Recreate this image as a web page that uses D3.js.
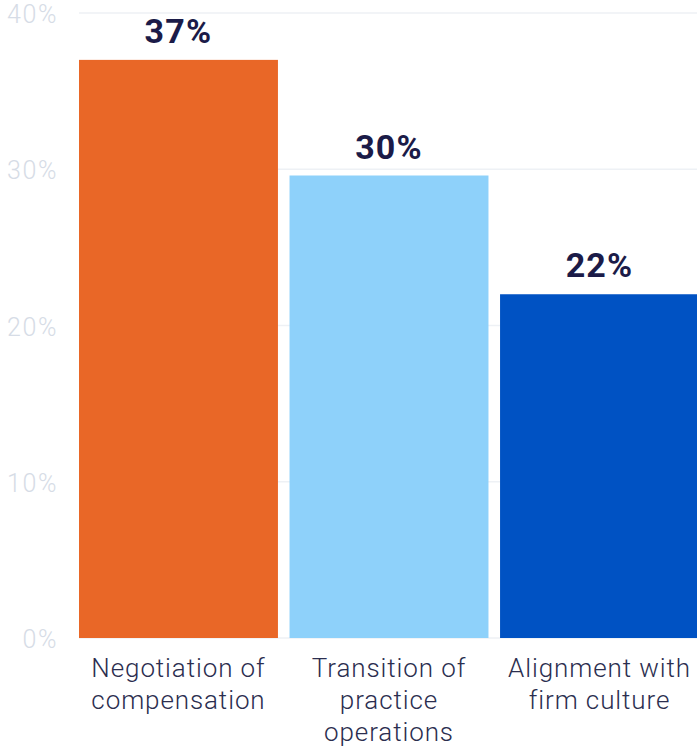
<!DOCTYPE html>
<html><head><meta charset="utf-8">
<script src="https://cdn.jsdelivr.net/npm/d3@7"></script>
<style>body{margin:0;background:#fff;}svg{display:block;}</style>
</head><body><svg id="c" width="697" height="747"></svg>
<script>
const categories = [["Negotiation of","compensation"],["Transition of","practice","operations"],["Alignment with","firm culture"]];
const values = [37, 29.6, 22];
const colors = ["#E96727", "#8ED1FA", "#0052C3"];
const yTicks = [0, 10, 20, 30, 40];

const svg = d3.select("#c");
const m = {left: 79, right: 699, top: 13, bottom: 638};
const x = d3.scaleBand().domain(d3.range(values.length)).range([m.left, m.right]).paddingInner(0.055).paddingOuter(0);
const y = d3.scaleLinear().domain([0, 40]).range([m.bottom, m.top]);

// gridlines
svg.append("g").selectAll("line").data(yTicks).join("line")
  .attr("x1", m.left).attr("x2", 697)
  .attr("y1", d => y(d)).attr("y2", d => y(d))
  .attr("stroke", "#eef1f5").attr("stroke-width", 1.5);

// y axis labels
const yAxis = d3.axisLeft(y).tickValues(yTicks).tickFormat(d => d + "%").tickSize(0).tickPadding(0);
const ga = svg.append("g").attr("transform", "translate(58,0)").call(yAxis);
ga.select(".domain").remove();
ga.selectAll("text").attr("font-family", "Roboto").attr("font-weight", 300).attr("font-size", 25)
  .attr("letter-spacing", 1.6).attr("fill", "#d6dce6").attr("dy", 9.5);

// bars
svg.append("g").selectAll("rect").data(values).join("rect")
  .attr("x", (d, i) => x(i)).attr("width", x.bandwidth())
  .attr("y", d => y(d)).attr("height", d => y(0) - y(d))
  .attr("fill", (d, i) => colors[i]);

// value labels
svg.append("g").selectAll("text").data(values).join("text")
  .attr("x", (d, i) => x(i) + x.bandwidth() / 2)
  .attr("y", d => y(d) - 17)
  .attr("text-anchor", "middle")
  .attr("font-family", "Roboto").attr("font-weight", 700).attr("font-size", 34)
  .attr("letter-spacing", 1.2)
  .attr("fill", "#1B1B48")
  .text(d => d3.format(".0f")(d) + "%");

// category labels
const cg = svg.append("g").selectAll("text").data(categories).join("text")
  .attr("x", (d, i) => x(i) + x.bandwidth() / 2)
  .attr("y", 677)
  .attr("text-anchor", "middle")
  .attr("font-family", "Roboto").attr("font-weight", 300).attr("font-size", 26)
  .attr("letter-spacing", 0.9)
  .attr("fill", "#2b2e4f");
cg.selectAll("tspan").data(d => d).join("tspan")
  .attr("x", function() { return this.parentNode.getAttribute("x"); })
  .attr("dy", (d, i) => i === 0 ? 0 : 32)
  .text(d => d);
</script></body></html>
